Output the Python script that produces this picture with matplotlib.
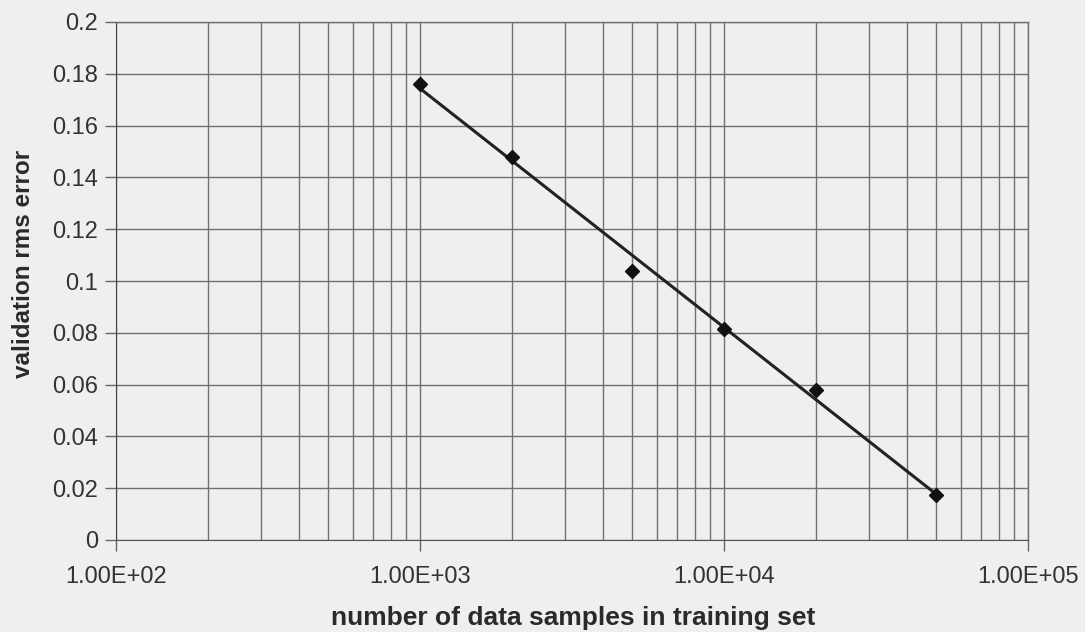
import numpy as np
import matplotlib.pyplot as plt
from matplotlib.ticker import LogLocator, FixedLocator

# training set size vs validation rms error
samples = [1000, 2000, 5000, 10000, 20000, 50000]
rms_error = [0.176, 0.148, 0.104, 0.0815, 0.058, 0.0173]

x_ticks = [1e2, 1e3, 1e4, 1e5]
x_tick_labels = ["1.00E+02", "1.00E+03", "1.00E+04", "1.00E+05"]
y_ticks = [0, 0.02, 0.04, 0.06, 0.08, 0.1, 0.12, 0.14, 0.16, 0.18, 0.2]

plt.rcParams['font.family'] = ['Liberation Sans', 'DejaVu Sans']

W, H = 1085, 632
bg = '#efefef'
fig = plt.figure(figsize=(W / 100, H / 100), dpi=100, facecolor=bg)
ax = fig.add_axes([116 / W, 1 - 540 / H, 912 / W, 518 / H])
ax.set_facecolor(bg)

# logarithmic trendline fitted to the points
coef = np.polyfit(np.log10(samples), rms_error, 1)
xs = np.array([samples[0], samples[-1]])
ax.plot(xs, np.polyval(coef, np.log10(xs)), color='#222222', lw=2.2, zorder=3)
ax.plot(samples, rms_error, 'D', color='#111111', ms=7.5, zorder=4)

ax.set_xscale('log')
ax.set_xlim(1e2, 1e5)
ax.set_ylim(0, 0.2)
ax.xaxis.set_major_locator(FixedLocator(x_ticks))
ax.set_xticklabels(x_tick_labels)
ax.xaxis.set_minor_locator(LogLocator(base=10, subs=np.arange(2, 10)))
ax.set_yticks(y_ticks)
ax.set_yticklabels([f"{v:g}" for v in y_ticks])

ax.grid(True, which='both', axis='x', color='#707070', lw=1)
ax.grid(True, which='major', axis='y', color='#707070', lw=1)
ax.set_axisbelow(True)

ax.tick_params(axis='x', which='major', length=8, width=1, color='#666666',
               labelsize=17, pad=11, labelcolor='#333333')
ax.tick_params(axis='x', which='minor', length=0)
ax.tick_params(axis='y', length=8, width=1, color='#666666',
               labelsize=17, pad=5, labelcolor='#333333')

for side in ['top', 'right']:
    ax.spines[side].set_color('#707070')
    ax.spines[side].set_linewidth(1)
ax.spines['left'].set_color('#444444')
ax.spines['bottom'].set_color('#555555')

fig.text(573 / W, 1 - 625 / H, 'number of data samples in training set',
         fontsize=19, fontweight='bold', color='#2a2a2a',
         ha='center', va='baseline')
fig.text(24 / W, 1 - 264 / H, 'validation rms error', fontsize=17.5,
         fontweight='bold', color='#2a2a2a', rotation=90,
         ha='center', va='center')

fig.savefig('out.png', dpi=100, facecolor=bg)
